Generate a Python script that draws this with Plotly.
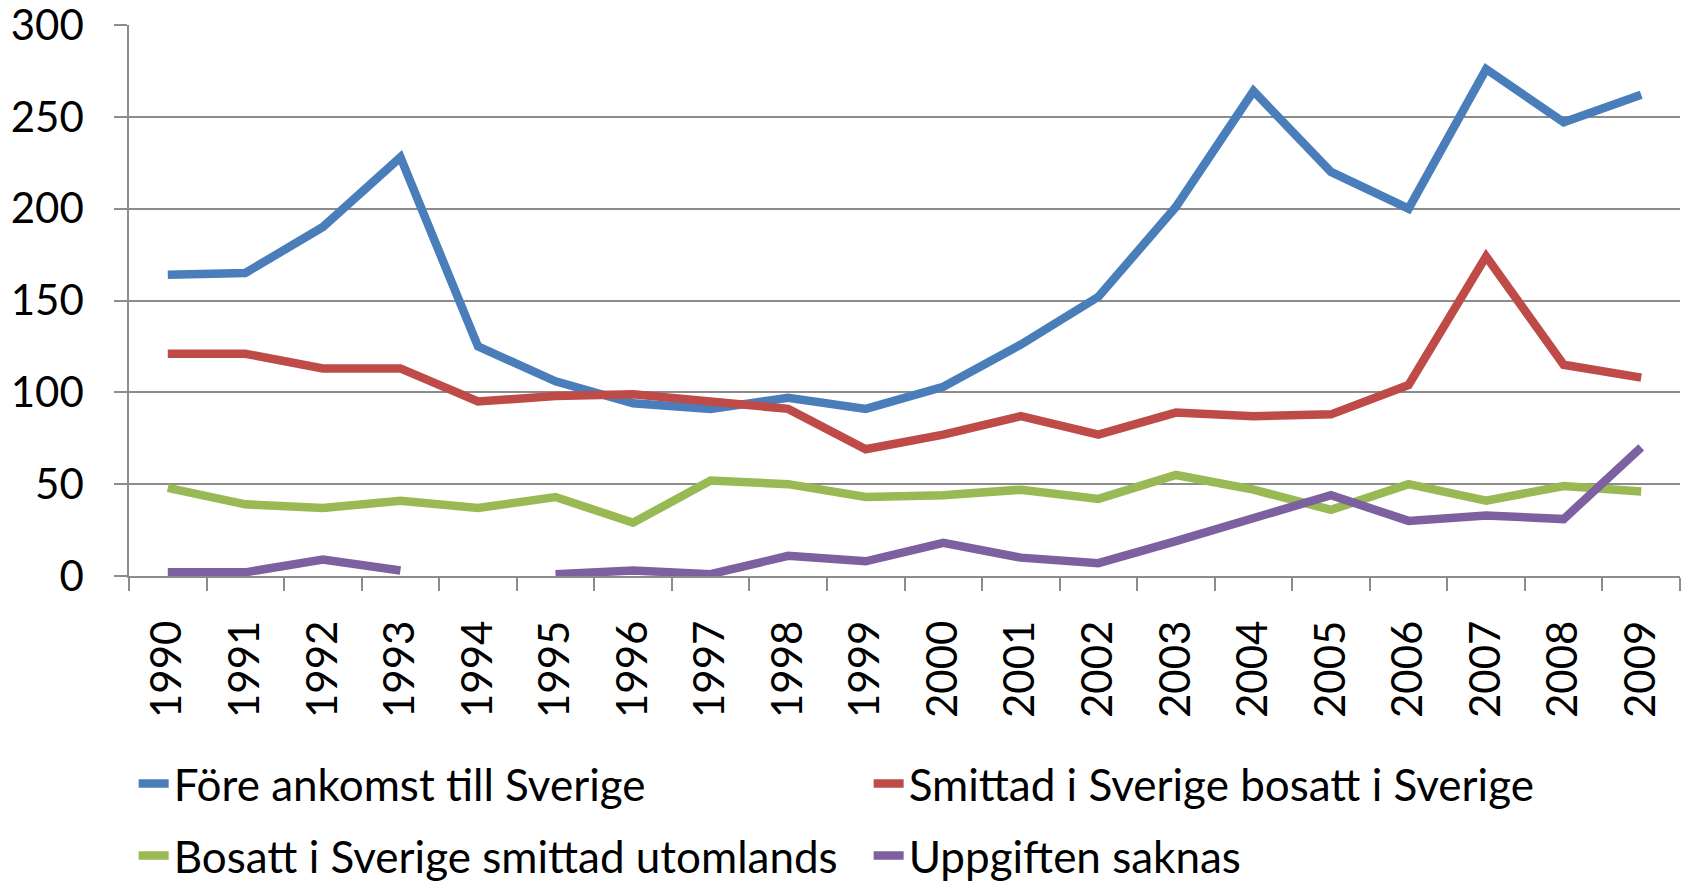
import plotly.graph_objects as go

years = [str(y) for y in range(1990, 2010)]
fore_ankomst = [164, 165, 190, 228, 125, 106, 94, 91, 97, 91, 103, 126, 152, 201, 264, 220, 200, 276, 247, 262]
smittad_sverige = [121, 121, 113, 113, 95, 98, 99, 95, 91, 69, 77, 87, 77, 89, 87, 88, 104, 174, 115, 108]
bosatt_utomlands = [48, 39, 37, 41, 37, 43, 29, 52, 50, 43, 44, 47, 42, 55, 47, 36, 50, 41, 49, 46]
uppgiften_saknas = [2, 2, 9, 3, None, 1, 3, 1, 11, 8, 18, 10, 7, 19, 31, 44, 30, 33, 31, 70]

names = ["Före ankomst till Sverige", "Smittad i Sverige bosatt i Sverige",
         "Bosatt i Sverige smittad utomlands", "Uppgiften saknas"]
series = [fore_ankomst, smittad_sverige, bosatt_utomlands, uppgiften_saknas]
colors = ["#4A7EBB", "#BE4B48", "#98B954", "#7D60A0"]
legends = ["legend", "legend", "legend2", "legend2"]

FONT = "Lato, Open Sans, sans-serif"

fig = go.Figure()
for name, vals, col, lg in zip(names, series, colors, legends):
    fig.add_trace(go.Scatter(x=years, y=vals, name=name, mode="lines",
                             line=dict(color=col, width=8.5), connectgaps=False,
                             legend=lg))

grid = "#8C8C8C"
leg_common = dict(orientation="h", x=0.003, xanchor="left", yanchor="middle",
                  font=dict(size=44, family=FONT, color="black"), entrywidth=690,
                  bgcolor="rgba(0,0,0,0)", traceorder="normal")
fig.update_layout(
    width=1685, height=881,
    margin=dict(l=129, r=5, t=25, b=305, autoexpand=False),
    paper_bgcolor="white", plot_bgcolor="white",
    font=dict(family=FONT, color="black"),
    showlegend=True,
    legend=dict(y=-0.3775, **leg_common),
    legend2=dict(y=-0.508, **leg_common),
)
fig.update_xaxes(type="category", range=[-0.5, 19.5], tickangle=-90,
                 tickson="boundaries", ticks="outside", ticklen=13, tickcolor=grid,
                 tickwidth=1.5, showline=True, linecolor=grid, linewidth=1.5,
                 showgrid=False, tickfont=dict(size=42, family=FONT, color="black"),
                 ticklabelstandoff=26, automargin=False, ticklabeloverflow="allow")
fig.update_yaxes(range=[0, 300], tickvals=[0, 50, 100, 150, 200, 250, 300],
                 ticks="outside", ticklen=13, tickcolor=grid, tickwidth=1.5,
                 showline=True, linecolor=grid, linewidth=1.5,
                 showgrid=True, gridcolor=grid, gridwidth=1.5, zeroline=False,
                 tickfont=dict(size=42, family=FONT, color="black"),
                 ticklabelstandoff=22, automargin=False, ticklabeloverflow="allow")

fig.write_html("out.html", config={"displayModeBar": False},
               post_script="document.body.style.margin='0';")
